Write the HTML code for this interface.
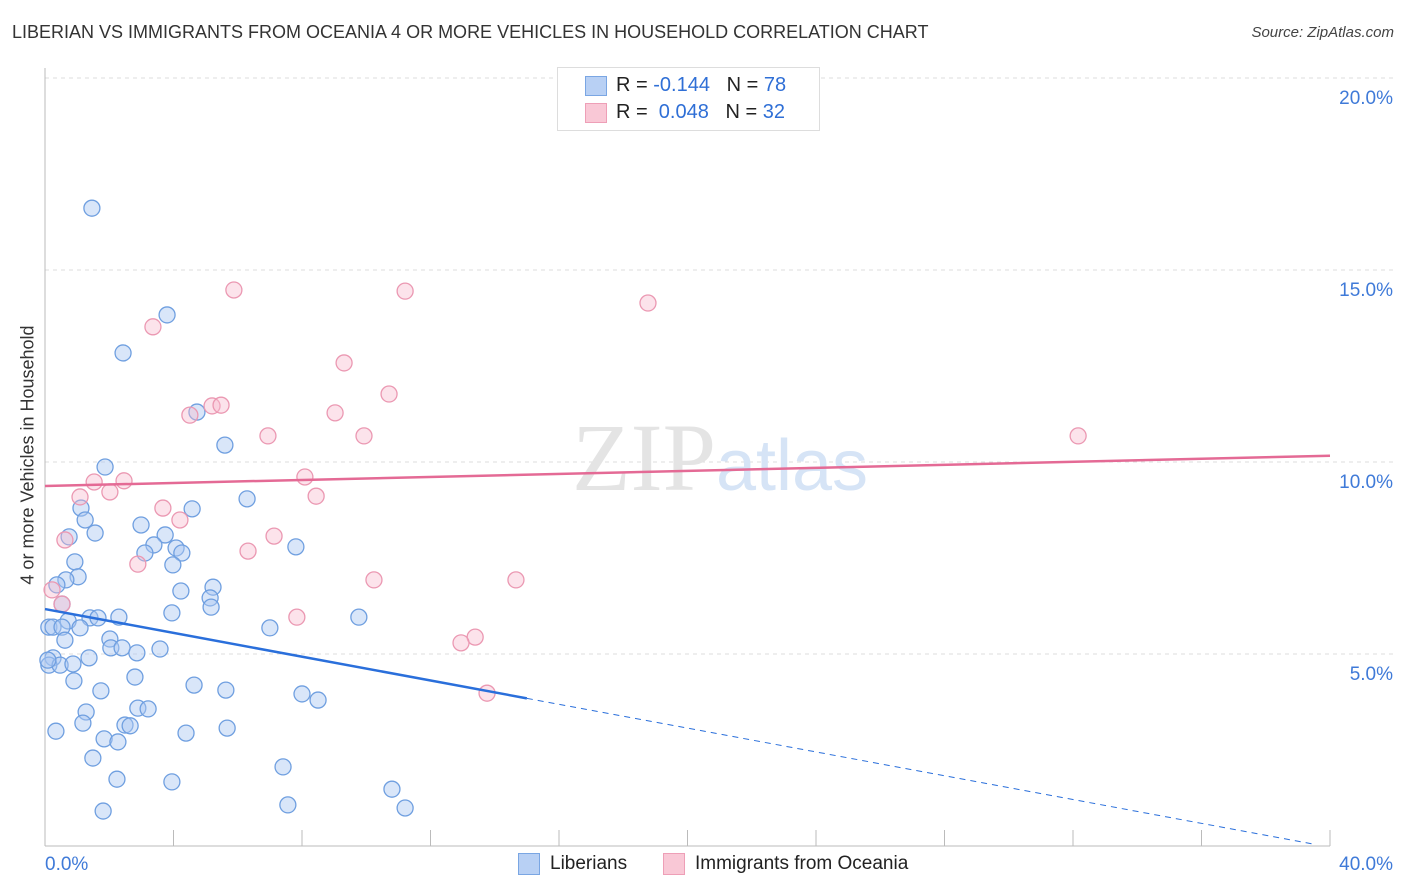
<!DOCTYPE html>
<html><head><meta charset="utf-8"><style>
body{margin:0;background:#fff;font-family:"Liberation Sans",sans-serif;}
#wrap{position:relative;width:1406px;height:892px;overflow:hidden;}
.t{position:absolute;white-space:nowrap;}
</style></head><body>
<div id="wrap">
<div class="t" style="left:12px;top:22px;font-size:18px;color:#333;">LIBERIAN VS IMMIGRANTS FROM OCEANIA 4 OR MORE VEHICLES IN HOUSEHOLD CORRELATION CHART</div>
<div class="t" style="right:12px;top:24px;font-size:15px;color:#444;font-style:italic;">Source: ZipAtlas.com</div>
<div class="t" style="left:28px;top:455px;font-size:18px;color:#333;transform:translate(-50%,-50%) rotate(-90deg);">4 or more Vehicles in Household</div>
<svg id="svg" width="1406" height="892" style="position:absolute;left:0;top:0"></svg>
<div style="position:absolute;left:557px;top:67px;width:261px;height:62px;border:1px solid #ddd;background:#fff;font-size:20px;">
<div style="position:absolute;left:27px;top:8px;width:20px;height:18px;background:#b8d0f4;border:1px solid #7aa6e3"></div>
<div class="t" style="left:58px;top:6px;color:#222">R = <span style="color:#2f6fd6">-0.144</span>&nbsp;&nbsp;&nbsp;N = <span style="color:#2f6fd6">78</span></div>
<div style="position:absolute;left:27px;top:35px;width:20px;height:18px;background:#f9c8d6;border:1px solid #ee9fb7"></div>
<div class="t" style="left:58px;top:33px;color:#222">R = &nbsp;<span style="color:#2f6fd6">0.048</span>&nbsp;&nbsp;&nbsp;N = <span style="color:#2f6fd6">32</span></div>
</div>
<div style="position:absolute;left:518px;top:853px;width:20px;height:20px;background:#b8d0f4;border:1px solid #7aa6e3"></div>
<div class="t" style="left:550px;top:853px;font-size:19px;color:#222">Liberians</div>
<div style="position:absolute;left:663px;top:853px;width:20px;height:20px;background:#f9c8d6;border:1px solid #ee9fb7"></div>
<div class="t" style="left:695px;top:853px;font-size:19px;color:#222">Immigrants from Oceania</div>
</div>
<script>
const blueX=[1.46,3.80,2.43,4.73,5.60,1.87,6.29,4.58,1.12,1.25,2.99,0.75,1.56,3.74,3.39,4.08,3.11,4.26,7.81,3.98,0.93,1.03,0.65,0.37,4.23,5.23,5.14,5.17,3.95,9.77,0.53,1.40,1.65,2.30,0.72,0.12,0.25,0.53,1.09,7.00,0.62,2.02,2.05,2.40,2.86,3.58,0.25,1.37,0.12,0.47,0.87,0.90,2.80,4.64,1.74,5.63,8.00,8.50,2.89,3.21,1.28,1.18,2.49,2.65,0.34,4.39,5.67,1.84,2.27,1.49,7.41,2.24,3.95,10.80,7.56,1.81,11.21,0.09];
const blueY=[16.61,13.83,12.84,11.30,10.44,9.87,9.04,8.78,8.80,8.49,8.36,8.05,8.15,8.10,7.84,7.76,7.63,7.63,7.79,7.32,7.40,7.01,6.93,6.80,6.64,6.74,6.46,6.22,6.07,5.96,6.30,5.94,5.94,5.96,5.86,5.70,5.70,5.70,5.68,5.68,5.36,5.39,5.16,5.16,5.03,5.13,4.90,4.90,4.71,4.71,4.74,4.30,4.40,4.19,4.04,4.06,3.96,3.80,3.59,3.57,3.49,3.20,3.15,3.13,2.99,2.94,3.07,2.79,2.71,2.29,2.06,1.74,1.67,1.48,1.07,0.91,0.99,4.84];
const pinkX=[5.88,11.21,18.77,3.36,9.31,10.71,5.20,5.48,4.51,9.03,6.94,9.93,32.16,8.09,2.46,1.53,1.09,2.02,8.44,3.67,4.20,7.13,0.62,6.32,2.89,10.24,14.66,0.22,0.53,7.84,13.39,12.95,13.76];
const pinkY=[14.48,14.45,14.14,13.52,12.58,11.77,11.46,11.48,11.22,11.28,10.68,10.68,10.68,9.61,9.51,9.48,9.09,9.22,9.11,8.80,8.49,8.07,7.97,7.68,7.34,6.93,6.93,6.67,6.30,5.96,5.44,5.29,3.98];
const blueTrend=[6.17,-0.155]; // intercept, slope
const pinkTrend=[9.375,0.0197];
const yTicks=[5,10,15,20];
const yTickLabels=["5.0%","10.0%","15.0%","20.0%"];
const xTicks=[0,4,8,12,16,20,24,28,32,36,40];

const sx=v=>45+v*32.125, sy=v=>846-v*38.4;
const svg=document.getElementById('svg');
const NS='http://www.w3.org/2000/svg';
function mk(t,a){const e=document.createElementNS(NS,t);for(const k in a)e.setAttribute(k,a[k]);svg.appendChild(e);return e;}
yTicks.forEach((v,i)=>{
 const l=mk('line',{x1:45,x2:1395,y1:sy(v),y2:sy(v),stroke:'#ddd','stroke-dasharray':'4,4'});
 
 
 const t=mk('text',{x:1393,y:sy(v)+26,'text-anchor':'end','font-size':19,fill:'#3f7ad8','font-family':'Liberation Sans'});
 t.textContent=yTickLabels[i];
 
 
});
const ax=mk('line',{x1:45,x2:1330,y1:846,y2:846,stroke:'#bbb'});


const ay=mk('line',{x1:45,x2:45,y1:68,y2:846,stroke:'#bbb'});


xTicks.forEach(v=>{
 const l=mk('line',{x1:sx(v),x2:sx(v),y1:830,y2:846,stroke:'#bbb'});
 
 
});
[['0.0%',45,'start'],['40.0%',1393,'end']].forEach(a=>{
 const t=mk('text',{x:a[1],y:870,'text-anchor':a[2],'font-size':19,fill:'#3f7ad8','font-family':'Liberation Sans'});
 t.textContent=a[0];
 
 
});
const wm=mk('text',{x:720,y:490,'text-anchor':'middle','font-size':96,fill:'#e4e4e4','font-family':'Liberation Serif'});
wm.innerHTML='ZIP<tspan fill="#d6e4f6" font-family="Liberation Sans" font-size="72">atlas</tspan>';


blueX.forEach((x,i)=>{
 const c=mk('circle',{cx:sx(x),cy:sy(blueY[i]),r:8,fill:'rgba(170,200,242,0.45)',stroke:'#6f9fe0','stroke-width':1.3});
 
 
});
pinkX.forEach((x,i)=>{
 const c=mk('circle',{cx:sx(x),cy:sy(pinkY[i]),r:8,fill:'rgba(248,185,205,0.4)',stroke:'#eb98b2','stroke-width':1.3});
 
 
});
const bt=x=>blueTrend[0]+blueTrend[1]*x, pt=x=>pinkTrend[0]+pinkTrend[1]*x;
const b1=mk('line',{x1:sx(0),y1:sy(bt(0)),x2:sx(15),y2:sy(bt(15)),stroke:'#2a6fdb','stroke-width':2.5});


const b2=mk('line',{x1:sx(15),y1:sy(bt(15)),x2:sx(39.5),y2:sy(bt(39.5)),stroke:'#2a6fdb','stroke-width':1,'stroke-dasharray':'6,5'});


const p1=mk('line',{x1:sx(0),y1:sy(pt(0)),x2:sx(40),y2:sy(pt(40)),stroke:'#e46a95','stroke-width':2.5});


</script>
</body></html>
